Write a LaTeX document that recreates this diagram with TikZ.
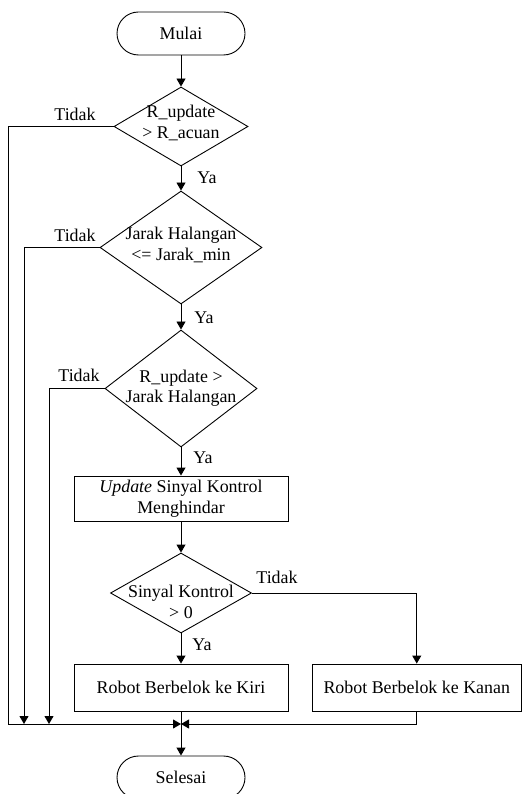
\documentclass[tikz,border=0pt]{standalone}
\usepackage{fontspec}
\setmainfont{Liberation Serif}
\usetikzlibrary{shapes.geometric,arrows.meta}
\begin{document}
\begin{tikzpicture}[x=1pt,y=-1pt,
  every node/.style={font=\fontsize{17.9}{20.5}\selectfont},
  ln/.style={line width=0.9pt},
  arr/.style={ln,-{Triangle[width=9pt,length=8pt]}},
  term/.style={draw,ln,rectangle,rounded corners=21.5pt,minimum width=128pt,minimum height=43pt,inner sep=0pt},
  dia/.style={draw,ln,diamond,inner sep=0pt},
  proc/.style={draw,ln,rectangle,align=center,inner sep=0pt},
  txt/.style={align=center,inner sep=0pt},
  lbl/.style={inner sep=0pt}]
\useasboundingbox (0,0) rectangle (522,794);

\node[term] (m) at (181,33.5) {Mulai};

\node[dia,minimum width=134pt,minimum height=79pt] (d1) at (181,126.5) {};
\node[txt] (t1) at (181,123) {R\_update\\> R\_acuan};

\node[dia,minimum width=162pt,minimum height=113pt] (d2) at (181,247.5) {};
\node[txt] (t2) at (181,245) {Jarak Halangan\\<= Jarak\_min};

\node[dia,minimum width=152pt,minimum height=117pt] (d3) at (181,388.5) {};
\node[txt] (t3) at (181,388) {R\_update >\\Jarak Halangan};

\node[proc,minimum width=214pt,minimum height=45pt] (up) at (181,498.5) {\textit{Update} Sinyal Kontrol\\Menghindar};

\node[dia,minimum width=141pt,minimum height=80pt] (d4) at (181,593) {};
\node[txt] (t4) at (181,602) {Sinyal Kontrol\\> 0};

\node[proc,minimum width=214pt,minimum height=47pt] (ll) at (181,687.5) {Robot Berbelok ke Kiri};
\node[proc,minimum width=209.5pt,minimum height=47pt] (rr) at (416.75,687.5) {Robot Berbelok ke Kanan};

\node[term] (s) at (181,777.5) {Selesai};

\coordinate (j1) at (8,724);
\coordinate (j2) at (24,724);
\coordinate (j3) at (49,724);
\coordinate (jm) at (181,724);

\node[lbl] (l1) at (75,114) {Tidak};
\node[lbl] (l2) at (75,235) {Tidak};
\node[lbl] (l3) at (79,375) {Tidak};
\node[lbl] (l4) at (277,577) {Tidak};
\node[lbl] (y1) at (207,178) {Ya};
\node[lbl] (y2) at (204,318) {Ya};
\node[lbl] (y3) at (203,458) {Ya};
\node[lbl] (y4) at (202,645) {Ya};

\draw[arr] (m) -- (d1);
\draw[arr] (d1) -- (d2);
\draw[arr] (d2) -- (d3);
\draw[arr] (d3) -- (up);
\draw[arr] (up) -- (d4);
\draw[arr] (d4) -- (ll);
\draw[arr] (d4.east) -| (rr.north);
\draw[arr] (d1.west) -| (j1) -- (jm);
\draw[arr] (d2.west) -| (j2);
\draw[arr] (d3.west) -| (j3);
\draw[arr] (rr.south) |- (jm);
\draw[ln] (ll) -- (jm);
\draw[arr] (jm) -- (s);
\end{tikzpicture}
\end{document}
